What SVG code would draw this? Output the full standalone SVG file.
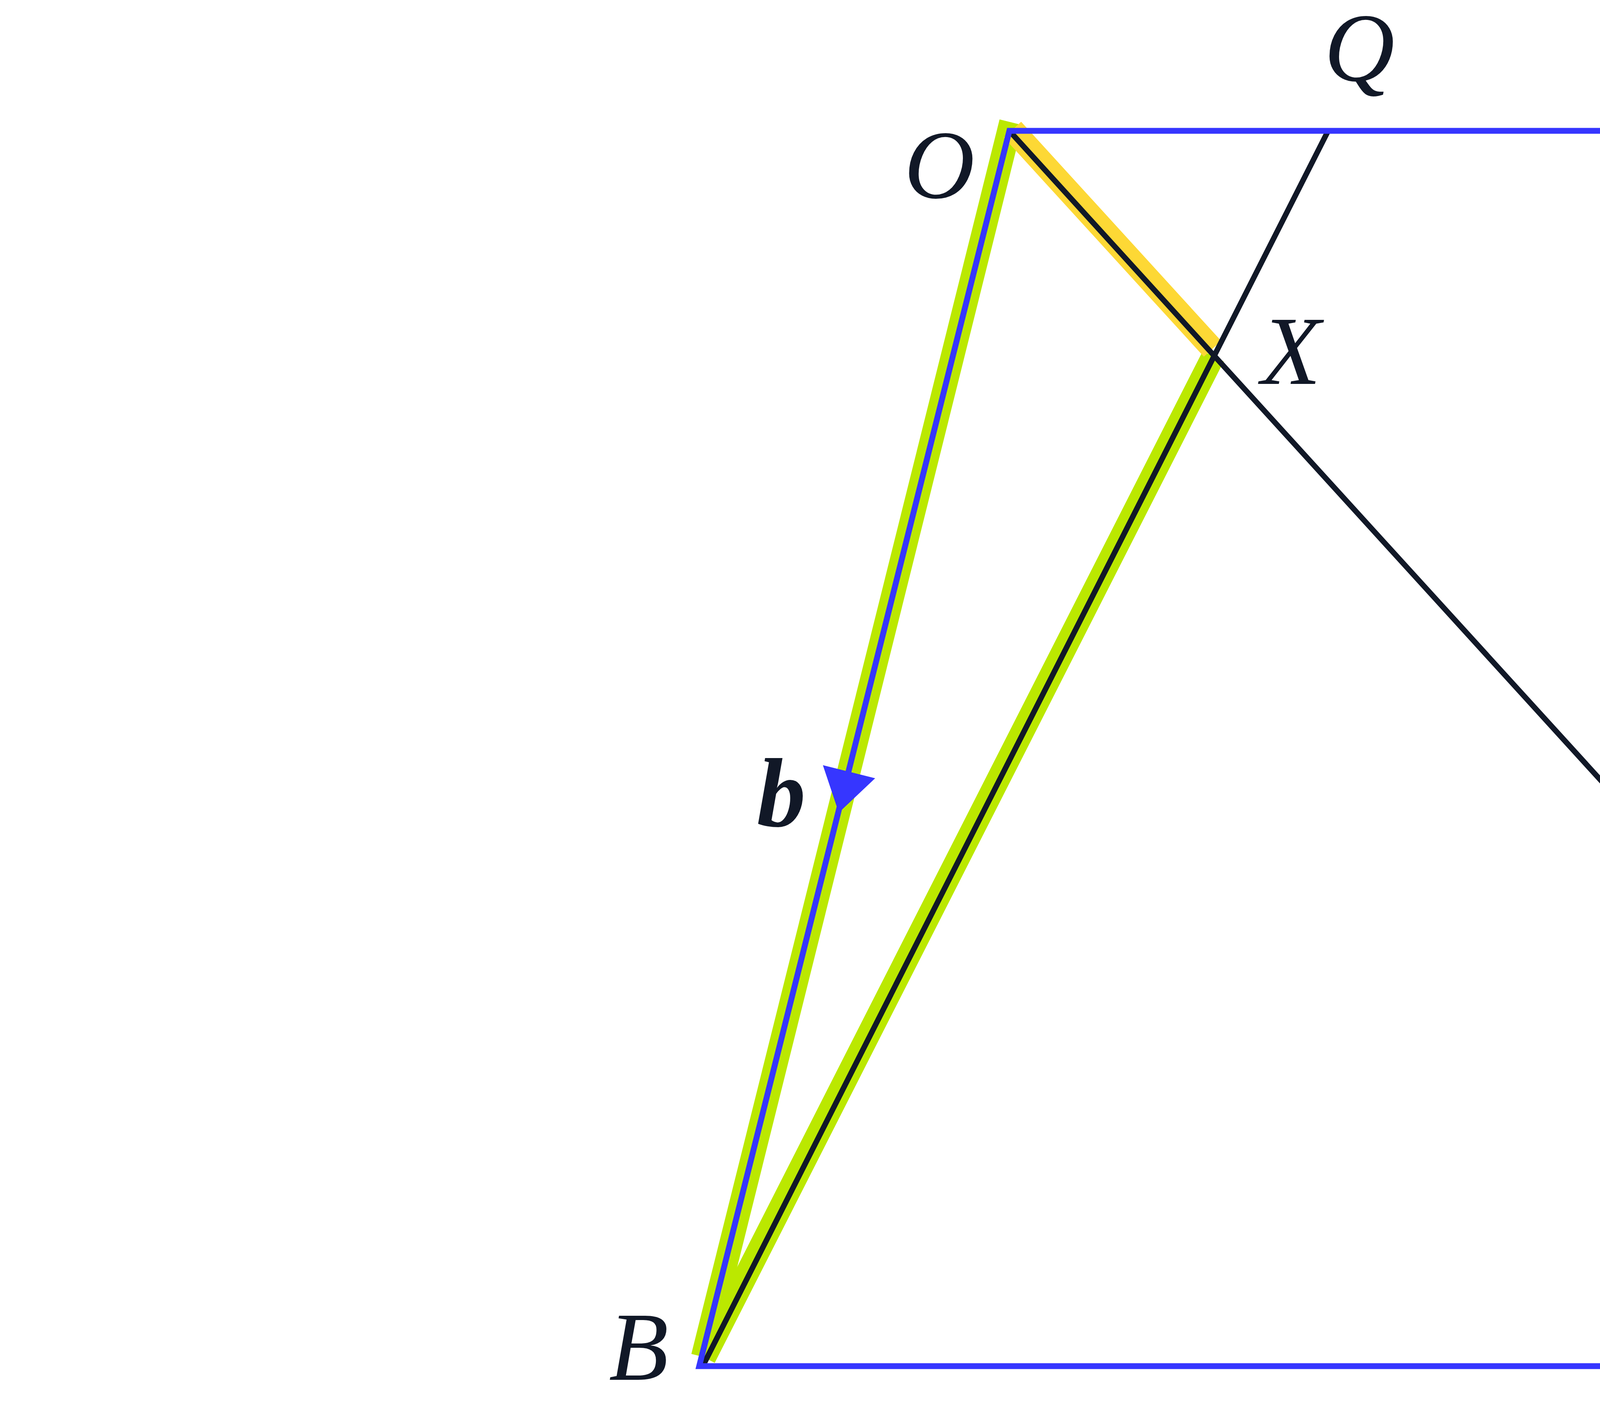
<svg xmlns="http://www.w3.org/2000/svg" width="8000" height="3618" viewBox="0 0 8000 3618">
<style>
.hl-lime{stroke:#BBE800;stroke-width:60;fill:none;stroke-linecap:butt}
.hl-yel{stroke:#FDD835;stroke-width:60;fill:none;stroke-linecap:butt}
.blk{stroke:#111827;stroke-width:14;fill:none;stroke-linecap:butt}
.blue{stroke:#3636FF;stroke-width:15;fill:none;stroke-linejoin:miter}
.arrow{fill:#3636FF;stroke:none}
.lbl{font-family:"Liberation Serif","DejaVu Serif",serif;font-style:italic;font-size:250px;fill:#111827;text-anchor:middle}
.vec{font-weight:bold}
</style>
<rect width="8000" height="3618" fill="#FFFFFF"/>
<g id="connectors">
  <g id="highlights">
    <line class="hl-lime" x1="2588" y1="313" x2="1799" y2="3474"/>
    <line class="hl-lime" x1="1803" y1="3476" x2="3106" y2="912"/>
    <line class="hl-yel" x1="2592" y1="332" x2="3104" y2="893"/>
  </g>
  <line id="OC" class="blk" x1="2584" y1="335" x2="5462" y2="3496"/>
  <line id="BQ" class="blk" x1="3400" y1="335" x2="1800" y2="3496"/>
  <polygon id="OACB" class="blue" points="2584,335 6256,335 5466,3498 1790,3498"/>
  <polygon id="arrow-a" class="arrow" points="4174,267 4282,336 4174,405"/>
  <polygon id="arrow-b" class="arrow" points="2106.6,1959.3 2240.4,1992.7 2147.3,2080.8"/>
</g>
<g id="node-O"><text class="lbl" x="2405" y="507">O</text></g>
<g id="node-A"><text class="lbl" x="6360" y="516">A</text></g>
<g id="node-B"><text class="lbl" x="1635" y="3533">B</text></g>
<g id="node-C"><text class="lbl" x="5648" y="3535">C</text></g>
<g id="node-Q"><text class="lbl" x="3480" y="207">Q</text></g>
<g id="node-X"><text class="lbl" x="3305" y="983">X</text></g>
<g id="label-a"><text class="lbl vec" x="4238" y="208">a</text></g>
<g id="label-b"><text class="lbl vec" x="2000" y="2115">b</text></g>
</svg>
